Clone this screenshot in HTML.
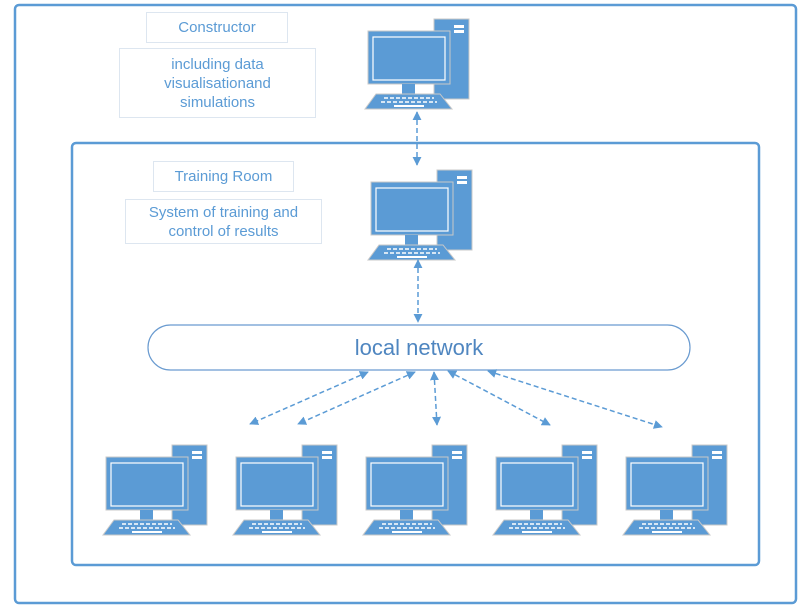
<!DOCTYPE html>
<html><head><meta charset="utf-8"><style>
body{margin:0;background:#fff;width:808px;height:610px;overflow:hidden;font-family:"Liberation Sans",sans-serif}
.b{position:absolute;border:1px solid #dde6f0;color:#5b9bd5;font-size:15px;text-align:center;display:flex;align-items:center;justify-content:center;line-height:19px;box-sizing:border-box}
</style></head><body>
<svg width="808" height="610" style="position:absolute;left:0;top:0">
<defs>
<g id="pc">
<rect x="66" y="0" width="35" height="80" fill="#5b9bd5" stroke="#c8c8c8" stroke-width="1"/>
<rect x="86" y="6" width="10" height="3" fill="#fff"/>
<rect x="86" y="11" width="10" height="3" fill="#fff"/>
<rect x="0" y="12" width="82" height="53" fill="#5b9bd5" stroke="#c8c8c8" stroke-width="1"/>
<rect x="5" y="18" width="72" height="43" fill="none" stroke="#fff" stroke-width="1.2"/>
<rect x="34" y="65" width="13" height="11" fill="#5b9bd5"/>
<polygon points="8,75 72,75 84,90 -3,90" fill="#5b9bd5" stroke="#c8c8c8" stroke-width="1"/>
<g stroke="#fff" stroke-width="1.5" stroke-dasharray="4,2">
<line x1="16" y1="79" x2="66" y2="79"/><line x1="13" y1="83" x2="69" y2="83"/>
</g>
<rect x="26" y="86" width="30" height="2" fill="#fff"/>
</g>
<marker id="a" viewBox="0 0 10 10" refX="9" refY="5" markerWidth="6" markerHeight="6" orient="auto-start-reverse"><path d="M0,0L10,5L0,10z" fill="#5b9bd5"/></marker>
</defs>
<rect x="15" y="5" width="781" height="598" rx="4" fill="none" stroke="#5b9bd5" stroke-width="2.5"/>
<rect x="72" y="143" width="687" height="422" rx="4" fill="none" stroke="#5b9bd5" stroke-width="2.5"/>
<rect x="148" y="325" width="542" height="45" rx="22.5" fill="#fff" stroke="#6a9bd0" stroke-width="1.2"/>
<text x="419" y="355" font-size="22" fill="#4f86c0" text-anchor="middle" font-family="Liberation Sans, sans-serif">local network</text>
<use href="#pc" x="368" y="19"/>
<use href="#pc" x="371" y="170"/>
<use href="#pc" x="106" y="445"/>
<use href="#pc" x="236" y="445"/>
<use href="#pc" x="366" y="445"/>
<use href="#pc" x="496" y="445"/>
<use href="#pc" x="626" y="445"/>
<g stroke="#5b9bd5" stroke-width="1.5" stroke-dasharray="5,3" fill="none" marker-start="url(#a)" marker-end="url(#a)">
<line x1="417" y1="112" x2="417" y2="165"/>
<line x1="418" y1="260" x2="418" y2="322"/>
<line x1="368" y1="372" x2="250" y2="424"/>
<line x1="415" y1="372" x2="298" y2="424"/>
<line x1="434" y1="372" x2="437" y2="425"/>
<line x1="448" y1="371" x2="550" y2="425"/>
<line x1="488" y1="371" x2="662" y2="427"/>
</g>
</svg>
<div class="b" style="left:146px;top:12px;width:142px;height:31px">Constructor</div>
<div class="b" style="left:119px;top:48px;width:197px;height:70px">including data<br>visualisationand<br>simulations</div>
<div class="b" style="left:153px;top:161px;width:141px;height:31px">Training Room</div>
<div class="b" style="left:125px;top:199px;width:197px;height:45px">System of training and<br>control of results</div>
</body></html>
